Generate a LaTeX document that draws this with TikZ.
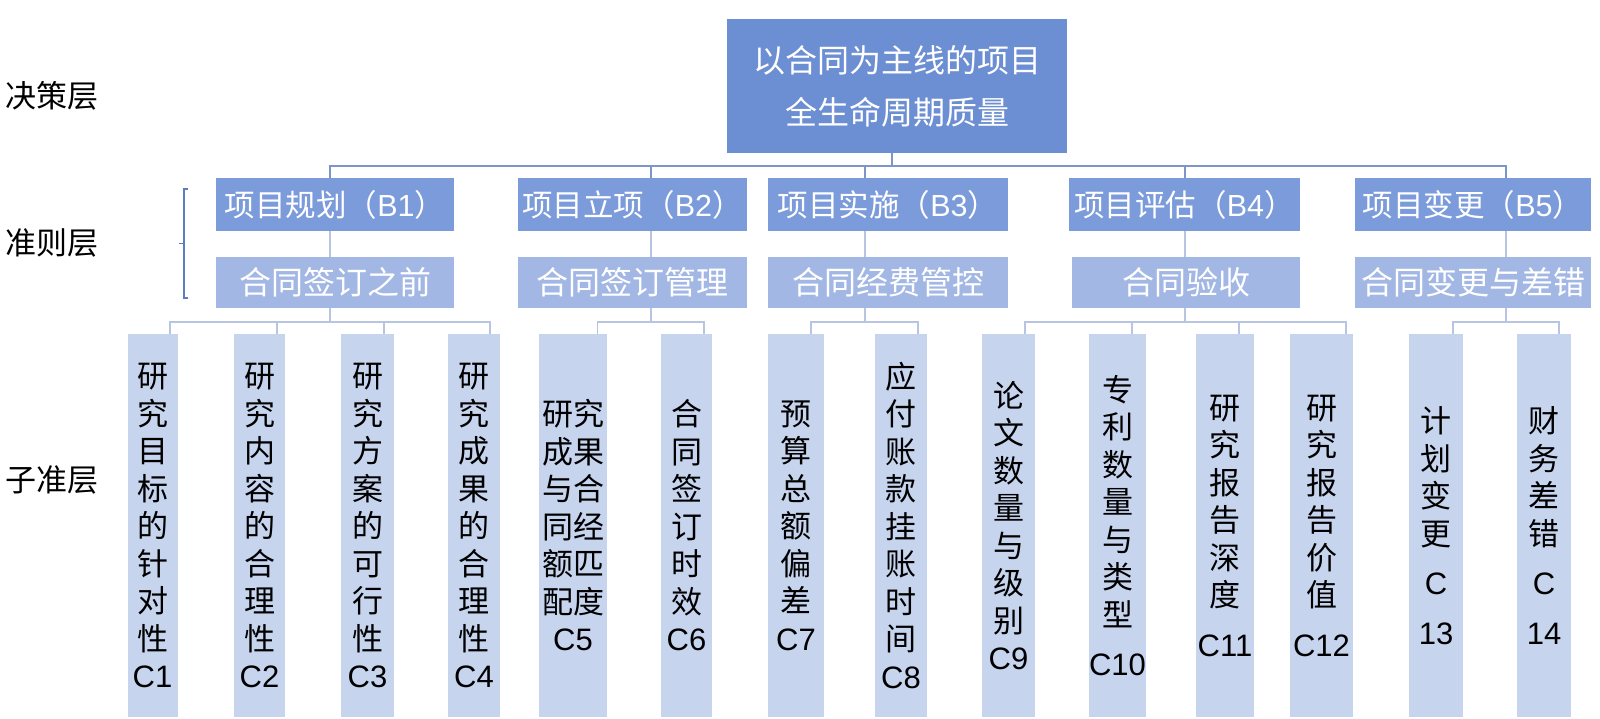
\documentclass[tikz,border=0pt]{standalone}
\usepackage{fontspec}
\setmainfont{Noto Sans CJK SC}
\newfontfamily\lat{Liberation Sans}
\definecolor{topc}{HTML}{6C8ED2}
\definecolor{bc}{HTML}{7B9BDA}
\definecolor{lc}{HTML}{A2B7E4}
\definecolor{cc}{HTML}{C6D4EE}
\definecolor{busc}{HTML}{7D96C8}
\definecolor{subc}{HTML}{B7C5E2}
\definecolor{brkc}{HTML}{5B7EC1}
\begin{document}
\begin{tikzpicture}[x=1pt,y=-1pt,
  box/.style={rectangle, inner sep=0pt, align=center},
  topbox/.style={box, fill=topc, text=white, font=\fontsize{32}{52}\selectfont},
  bbox/.style={box, fill=bc, text=white, font=\fontsize{30.5}{36}\selectfont, minimum height=53pt},
  lbox/.style={box, fill=lc, text=white, font=\fontsize{32}{36}\selectfont, minimum height=51pt},
  cbox/.style={box, fill=cc, text=black, font=\fontsize{31}{37.5}\selectfont, minimum height=383pt},
  lev/.style={anchor=west, inner sep=0pt, font=\fontsize{31}{36}\selectfont},
  bus/.style={draw=busc, line width=2pt},
  sub/.style={draw=subc, line width=1.5pt},
  brk/.style={draw=brkc, line width=1.5pt}]
\fill[white] (0,0) rectangle (1600,719);
\useasboundingbox (0,0) rectangle (1600,719);

% level labels
\node[lev] (lv1) at (5,96) {决策层};
\node[lev] (lv2) at (5,243) {准则层};
\node[lev] (lv3) at (5,480) {子准层};

% bracket
\draw[brk] (188,189) -- (184,189) -- (184,298) -- (188,298);
\draw[brk] (184,243.5) -- (179,243.5);

% top
\node[topbox, minimum width=340pt, minimum height=134pt] (top) at (897,86) {以合同为主线的项目\\全生命周期质量};

% B row
\node[bbox, minimum width=238pt] (b1) at (335,204.5) {项目规划（{\lat B1}）};
\node[bbox, minimum width=229pt] (b2) at (632.5,204.5) {项目立项（{\lat B2}）};
\node[bbox, minimum width=240pt] (b3) at (888,204.5) {项目实施（{\lat B3}）};
\node[bbox, minimum width=231pt] (b4) at (1184.5,204.5) {项目评估（{\lat B4}）};
\node[bbox, minimum width=236pt] (b5) at (1473,204.5) {项目变更（{\lat B5}）};

% lower row
\node[lbox, minimum width=238pt] (l1) at (335,282.5) {合同签订之前};
\node[lbox, minimum width=229pt] (l2) at (632.5,282.5) {合同签订管理};
\node[lbox, minimum width=240pt] (l3) at (888,282.5) {合同经费管控};
\node[lbox, minimum width=228pt] (l4) at (1186,282.5) {合同验收};
\node[lbox, minimum width=236pt] (l5) at (1473,282.5) {合同变更与差错};

% C row
\node[cbox, minimum width=50pt] (c1) at (152.5,525.5) {研\\究\\目\\标\\的\\针\\对\\性\\{\lat C1}};
\node[cbox, minimum width=51pt] (c2) at (259.5,525.5) {研\\究\\内\\容\\的\\合\\理\\性\\{\lat C2}};
\node[cbox, minimum width=53pt] (c3) at (367.5,525.5) {研\\究\\方\\案\\的\\可\\行\\性\\{\lat C3}};
\node[cbox, minimum width=52pt] (c4) at (474,525.5) {研\\究\\成\\果\\的\\合\\理\\性\\{\lat C4}};
\node[cbox, minimum width=68pt] (c5) at (573,525.5) {研究\\成果\\与合\\同经\\额匹\\配度\\{\lat C5}};
\node[cbox, minimum width=51pt] (c6) at (686.5,525.5) {合\\同\\签\\订\\时\\效\\{\lat C6}};
\node[cbox, minimum width=56pt] (c7) at (796,525.5) {预\\算\\总\\额\\偏\\差\\{\lat C7}};
\node[cbox, minimum width=52pt] (c8) at (901,525.5) {应\\付\\账\\款\\挂\\账\\时\\间\\{\lat C8}};
\node[cbox, minimum width=53pt] (c9) at (1008.5,525.5) {论\\文\\数\\量\\与\\级\\别\\{\lat C9}};
\node[cbox, minimum width=55pt] (c10) at (1117.5,525.5) {专\\利\\数\\量\\与\\类\\型\\[12pt]{\lat C10}};
\node[cbox, minimum width=58pt] (c11) at (1225,525.5) {研\\究\\报\\告\\深\\度\\[12pt]{\lat C11}};
\node[cbox, minimum width=63pt] (c12) at (1321.5,525.5) {研\\究\\报\\告\\价\\值\\[12pt]{\lat C12}};
\node[cbox, minimum width=54pt] (c13) at (1436,525.5) {计\\划\\变\\更\\[12pt]{\lat C}\\[12pt]{\lat 13}};
\node[cbox, minimum width=54pt] (c14) at (1544,525.5) {财\\务\\差\\错\\[12pt]{\lat C}\\[12pt]{\lat 14}};

% stem coordinates
\coordinate (t0) at ([xshift=-5pt]top.south);
\coordinate (s1) at ([xshift=-5pt]b1.north);
\coordinate (s2) at ([xshift=18.5pt]b2.north);
\coordinate (s3) at ([xshift=-23pt]b3.north);
\coordinate (s4) at ([xshift=0.5pt]b4.north);
\coordinate (s5) at ([xshift=33pt]b5.north);

% drop coordinates
\coordinate (d1) at ([xshift=17.5pt]c1.north);
\coordinate (d2) at ([xshift=17.5pt]c2.north);
\coordinate (d3) at ([xshift=16.5pt]c3.north);
\coordinate (d4) at ([xshift=16pt]c4.north);
\coordinate (d5) at ([xshift=24.5pt]c5.north);
\coordinate (d6) at ([xshift=17.5pt]c6.north);
\coordinate (d7) at ([xshift=15pt]c7.north);
\coordinate (d8) at ([xshift=17pt]c8.north);
\coordinate (d9) at ([xshift=16.5pt]c9.north);
\coordinate (d10) at ([xshift=14.5pt]c10.north);
\coordinate (d11) at ([xshift=14pt]c11.north);
\coordinate (d12) at ([xshift=24.5pt]c12.north);
\coordinate (d13) at ([xshift=17pt]c13.north);
\coordinate (d14) at ([xshift=15pt]c14.north);

% top bus
\foreach \s in {s1,s2,s3,s4,s5}
  \draw[bus] (t0) -- ++(0,13) -| (\s);

% B to lower
\foreach \i in {1,...,5}
  \draw[sub] (s\i |- b\i.south) -- (s\i |- l\i.north);

% lower to C
\foreach \i/\d in {1/d1,1/d2,1/d3,1/d4,2/d5,2/d6,3/d7,3/d8,4/d9,4/d10,4/d11,4/d12,5/d13,5/d14}
  \draw[sub] (s\i |- l\i.south) -- ++(0,14) -| (\d);
\end{tikzpicture}
\end{document}
